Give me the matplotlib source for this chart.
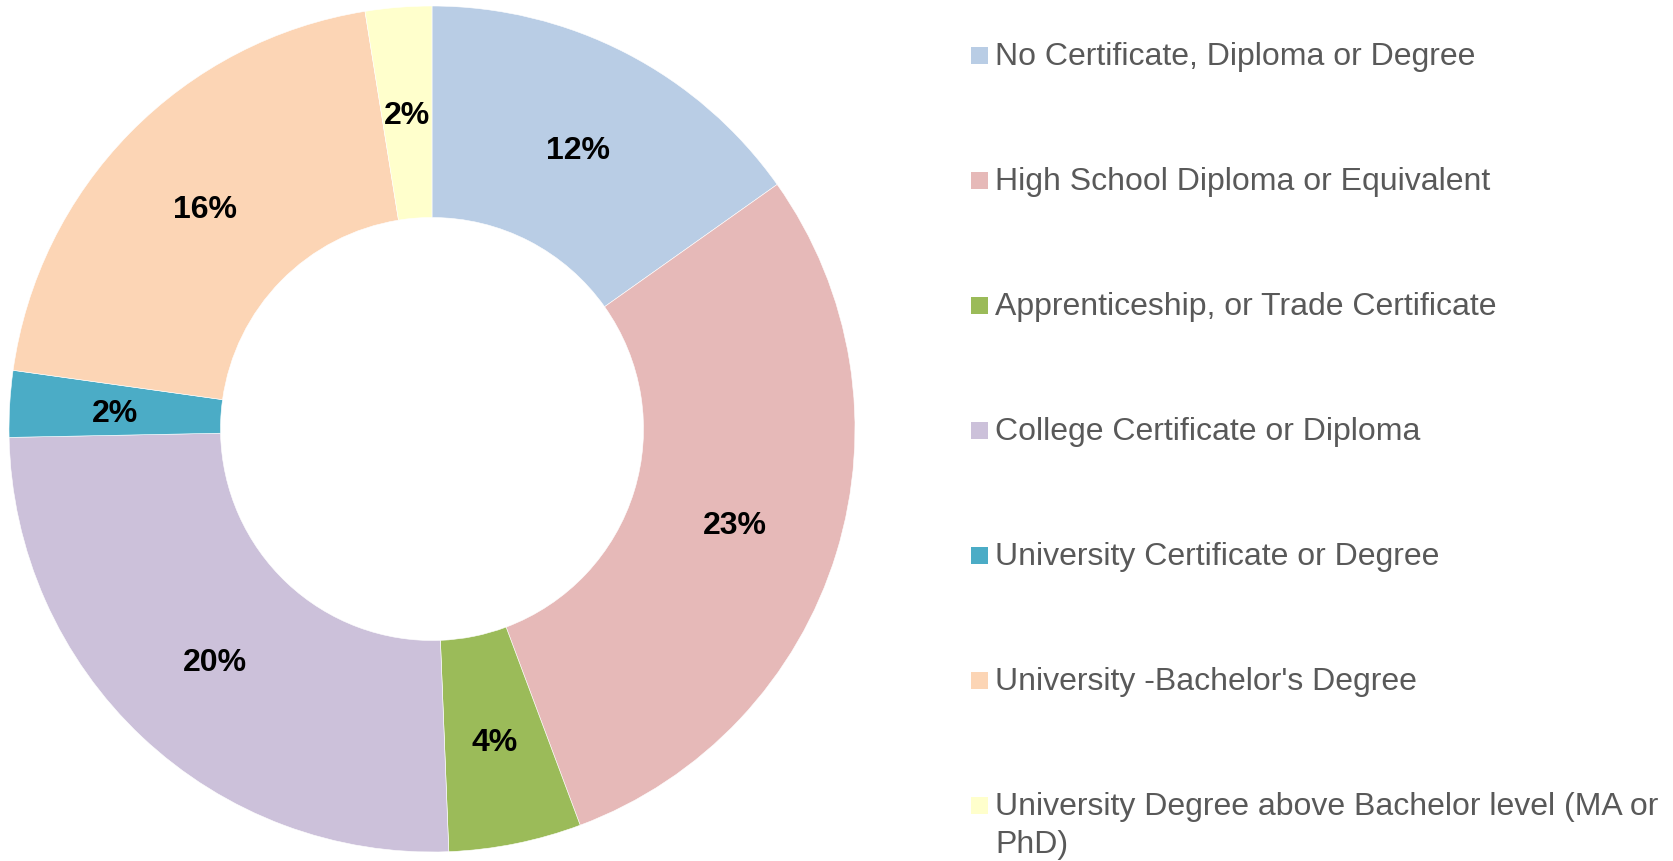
import matplotlib.pyplot as plt
import matplotlib.patches as patches

plt.rcParams['font.family'] = ['Liberation Sans', 'DejaVu Sans']

categories = [
    "No Certificate, Diploma or Degree",
    "High School Diploma or Equivalent",
    "Apprenticeship, or Trade Certificate",
    "College Certificate or Diploma",
    "University Certificate or Degree",
    "University -Bachelor's Degree",
    "University Degree above Bachelor level (MA or\nPhD)",
]
values = [12, 23, 4, 20, 2, 16, 2]
colors = ["#B9CDE5", "#E6B9B8", "#9BBB59", "#CCC1DA", "#4BACC6", "#FCD5B5", "#FFFFCC"]

W, H = 1674, 861
fig = plt.figure(figsize=(W / 100, H / 100), dpi=100)

# donut centre and radius in pixels
cx, cy, r = 432, 429, 423
ax = fig.add_axes([(cx - r) / W, (H - cy - r) / H, 2 * r / W, 2 * r / H])

total = sum(values)
wedges, texts, autotexts = ax.pie(
    values,
    colors=colors,
    startangle=90,
    counterclock=False,
    radius=1.0,
    wedgeprops=dict(width=0.5, edgecolor="white", linewidth=0.4),
    autopct=lambda p: f"{p * total / 100:.0f}%",
    pctdistance=0.75,
    textprops=dict(fontsize=23, fontweight="bold", color="black"),
)
for t in autotexts:
    t.set_va("center_baseline")
ax.set_xlim(-1, 1)
ax.set_ylim(-1, 1)
ax.set_aspect("equal")

# legend drawn by hand to match the spacing of the original
x_box, x_text = 971, 995
y0, dy = 55, 125
for i, (cat, col) in enumerate(zip(categories, colors)):
    y = y0 + i * dy
    fig.patches.append(
        patches.Rectangle(
            (x_box / W, 1 - (y + 8.5) / H), 17 / W, 17 / H,
            transform=fig.transFigure, facecolor=col, edgecolor="none",
        )
    )
    fig.text(
        x_text / W, 1 - (y - 13) / H, cat,
        fontsize=23, color="#595959", va="top", ha="left", linespacing=1.33,
    )

fig.savefig("out.png", dpi=100)
